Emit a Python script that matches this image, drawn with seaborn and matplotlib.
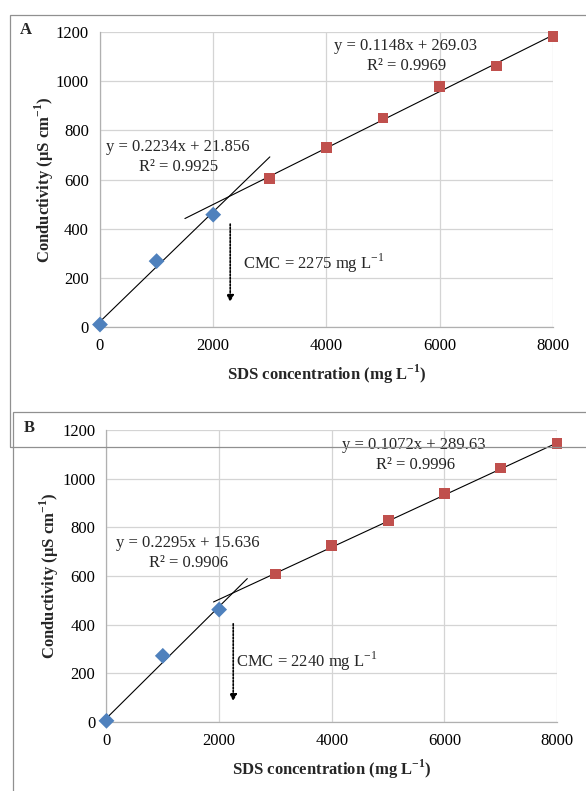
import numpy as np
import pandas as pd
import matplotlib
matplotlib.use("Agg")
import matplotlib.pyplot as plt
from matplotlib.patches import Rectangle
import seaborn as sns

# Panel A data
conc = [0, 1000, 2000, 3000, 4000, 5000, 6000, 7000, 8000]
cond_a = [10, 268, 457, 605, 730, 850, 978, 1062, 1183]
# Panel B data
cond_b = [5, 272, 462, 608, 724, 828, 940, 1044, 1144]
n_pre = 3  # first three points are below the CMC

# trendline coefficients (slope, intercept) and drawn ranges
fit_a_pre = (0.2234, 21.856)
fit_a_post = (0.1148, 269.03)
fit_b_pre = (0.2295, 15.636)
fit_b_post = (0.1072, 289.63)
range_a_pre = (0, 3000)
range_a_post = (1500, 8000)
range_b_pre = (0, 2500)
range_b_post = (1900, 8000)

eq_a = ["y = 0.2234x + 21.856", "R² = 0.9925", "y = 0.1148x + 269.03", "R² = 0.9969"]
eq_b = ["y = 0.2295x + 15.636", "R² = 0.9906", "y = 0.1072x + 289.63", "R² = 0.9996"]
cmc_a = 2275
cmc_b = 2240

sns.set_theme(style="white")
plt.rcParams['font.family'] = ['Liberation Serif', 'DejaVu Serif']
plt.rcParams['mathtext.fontset'] = 'custom'
plt.rcParams['mathtext.rm'] = 'Liberation Serif'
plt.rcParams['mathtext.bf'] = 'Liberation Serif:bold'

fig = plt.figure(figsize=(5.86, 7.91), dpi=100)

blue = "#4F81BD"
red = "#C0504D"


def draw_panel(ax, cond, fits, ranges, eqs, cmc, eq_pos, arrow_x, arrow_y, cmc_pos, ypad):
    df = pd.DataFrame({"x": conc, "y": cond})
    pre = df.iloc[:n_pre]
    post = df.iloc[n_pre:]
    for (m, b), (x0, x1) in zip(fits, ranges):
        xs = np.array([x0, x1])
        ax.plot(xs, m * xs + b, color="black", lw=0.8, zorder=2)
    sns.scatterplot(data=pre, x="x", y="y", marker="D", s=65, color=blue,
                    edgecolor="none", ax=ax, zorder=3, clip_on=False)
    sns.scatterplot(data=post, x="x", y="y", marker="s", s=60, color=red,
                    edgecolor="none", ax=ax, zorder=3, clip_on=False)
    ax.set_xlim(0, 8000)
    ax.set_ylim(0, 1200)
    ax.set_xticks(range(0, 8001, 2000))
    ax.set_yticks(range(0, 1201, 200))
    ax.grid(True, color="#d4d4d4", lw=0.9)
    ax.set_axisbelow(True)
    for s in ["top", "right"]:
        ax.spines[s].set_visible(False)
    for s in ["left", "bottom"]:
        ax.spines[s].set_color("#b0b0b0")
        ax.spines[s].set_linewidth(0.9)
    ax.tick_params(length=0, labelsize=12, pad=8, colors="black")
    ax.set_xlabel("SDS concentration (mg L$^{\\mathbf{-1}}$)", fontsize=12,
                  fontweight="bold", labelpad=6)
    ax.set_ylabel("Conductivity (µS cm$^{\\mathbf{-1}}$)", fontsize=12,
                  fontweight="bold", labelpad=ypad)
    for txt, (x, y) in zip(eqs, eq_pos):
        ax.text(x, y, txt, fontsize=12, ha="center", va="center")
    ax.annotate("", xy=(arrow_x, arrow_y[1]), xytext=(arrow_x, arrow_y[0]),
                arrowprops=dict(arrowstyle="-|>", linestyle=(0, (1, 1)),
                                color="black", lw=1.2, mutation_scale=10))
    ax.text(cmc_pos[0], cmc_pos[1], f"CMC = {cmc} mg L$^{{-1}}$",
            fontsize=12, ha="left", va="center")


ax_a = fig.add_axes([0.1706, 0.5866, 0.773, 0.3729])
draw_panel(ax_a, cond_a, [fit_a_pre, fit_a_post], [range_a_pre, range_a_post], eq_a,
           cmc_a, [(1380, 732), (1380, 651), (5400, 1143), (5420, 1062)],
           2300, (430, 90), (2520, 260), 0)

ax_b = fig.add_axes([0.1817, 0.0872, 0.769, 0.3692])
draw_panel(ax_b, cond_b, [fit_b_pre, fit_b_post], [range_b_pre, range_b_post], eq_b,
           cmc_b, [(1450, 735), (1450, 654), (5460, 1138), (5480, 1056)],
           2250, (415, 74), (2300, 250), 1)

# panel frames (right edges run off the image)
fig.patches.append(Rectangle((10 / 586, 1 - 447 / 791), 1.0, 432 / 791,
                             transform=fig.transFigure, fill=False,
                             edgecolor="#909090", lw=0.9))
fig.patches.append(Rectangle((13 / 586, -0.02), 1.0, 1 - 412 / 791 + 0.02,
                             transform=fig.transFigure, fill=False,
                             edgecolor="#909090", lw=0.9))
fig.text(20 / 586, 1 - 30 / 791, "A", fontsize=12, fontweight="bold", ha="left", va="center")
fig.text(24 / 586, 1 - 428 / 791, "B", fontsize=12, fontweight="bold", ha="left", va="center")

fig.savefig("out.png", dpi=100)
